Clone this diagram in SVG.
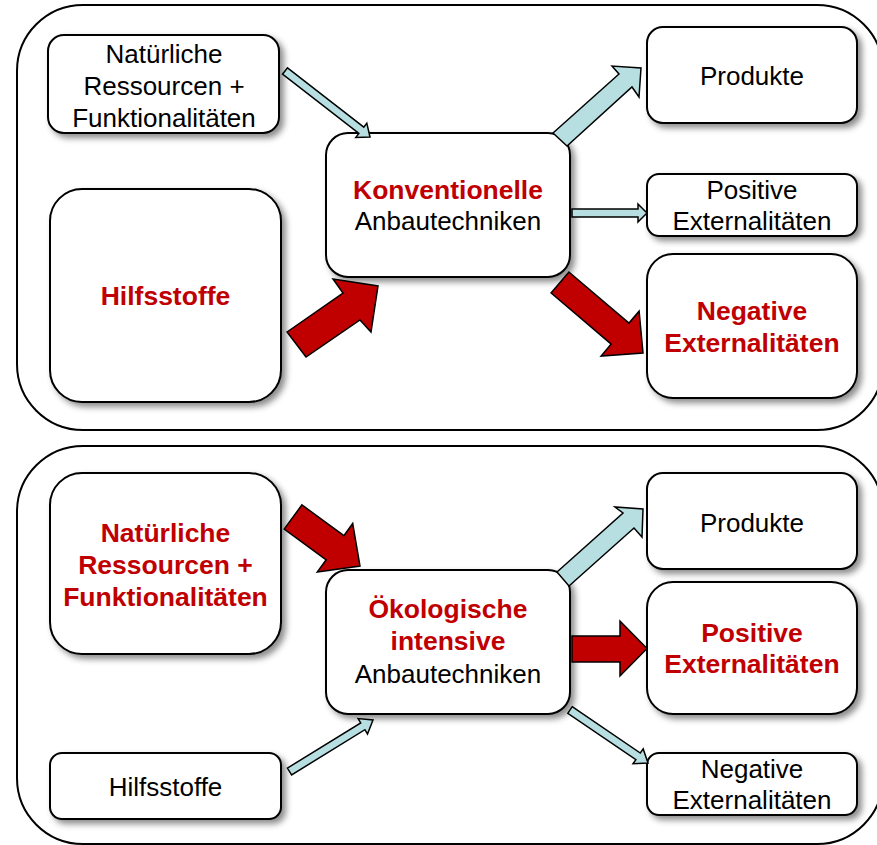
<svg xmlns="http://www.w3.org/2000/svg" width="877" height="845" viewBox="0 0 877 845">
<defs>
<filter id="sh" x="-10%" y="-10%" width="130%" height="130%">
<feDropShadow dx="4" dy="4" stdDeviation="3" flood-color="#000" flood-opacity="0.45"/>
</filter>
<style>
.cont{fill:#fff;stroke:#000;stroke-width:2}
.box{fill:#fff;stroke:#000;stroke-width:2;filter:url(#sh)}
.t{font-family:"Liberation Sans",Arial,sans-serif;font-size:26px;fill:#000;text-anchor:middle}
.r{fill:#c00000;font-weight:bold;font-size:26.5px}
.blue{fill:#b7dfe1;stroke:#000;stroke-width:1.5;stroke-linejoin:miter}
.red{fill:#c00000;stroke:#000;stroke-width:1.5;stroke-linejoin:miter}
</style>
</defs>
<rect width="877" height="845" fill="#fff"/>
<g id="container-top"><rect class="cont" x="17" y="5" width="866" height="425" rx="66"/></g>
<g id="container-bottom"><rect class="cont" x="17" y="446" width="866" height="398" rx="66"/></g>

<g id="n-natur-top"><rect class="box" x="48" y="35" width="231" height="98" rx="16"/>
<text class="t" x="164" y="63">Natürliche</text><text class="t" x="164" y="95">Ressourcen +</text><text class="t" x="164" y="127">Funktionalitäten</text></g>
<g id="n-hilfs-top"><rect class="box" x="50" y="189" width="231" height="213" rx="32"/>
<text class="t r" x="165.5" y="305">Hilfsstoffe</text></g>
<g id="n-konv"><rect class="box" x="326" y="133" width="244" height="144" rx="22"/>
<text class="t r" x="448" y="199">Konventionelle</text><text class="t" x="448" y="230">Anbautechniken</text></g>
<g id="n-prod-top"><rect class="box" x="647" y="27" width="210" height="96" rx="16"/>
<text class="t" x="752" y="85">Produkte</text></g>
<g id="n-pos-top"><rect class="box" x="647" y="174" width="210" height="62" rx="12"/>
<text class="t" x="752" y="199">Positive</text><text class="t" x="752" y="230">Externalitäten</text></g>
<g id="n-neg-top"><rect class="box" x="647" y="254" width="210" height="144" rx="26"/>
<text class="t r" x="752" y="320">Negative</text><text class="t r" x="752" y="352">Externalitäten</text></g>

<g id="n-natur-bot"><rect class="box" x="50" y="473" width="231" height="181" rx="32"/>
<text class="t r" x="165.5" y="542">Natürliche</text><text class="t r" x="165.5" y="574">Ressourcen +</text><text class="t r" x="165.5" y="606">Funktionalitäten</text></g>
<g id="n-hilfs-bot"><rect class="box" x="50" y="753" width="231" height="66" rx="12"/>
<text class="t" x="165.5" y="796">Hilfsstoffe</text></g>
<g id="n-oeko"><rect class="box" x="326" y="570" width="244" height="144" rx="22"/>
<text class="t r" x="448" y="618">Ökologische</text><text class="t r" x="448" y="650">intensive</text><text class="t" x="448" y="683">Anbautechniken</text></g>
<g id="n-prod-bot"><rect class="box" x="647" y="473" width="210" height="96" rx="16"/>
<text class="t" x="752" y="532">Produkte</text></g>
<g id="n-pos-bot"><rect class="box" x="647" y="582" width="210" height="132" rx="26"/>
<text class="t r" x="752" y="642">Positive</text><text class="t r" x="752" y="673">Externalitäten</text></g>
<g id="n-neg-bot"><rect class="box" x="647" y="753" width="210" height="62" rx="12"/>
<text class="t" x="752" y="778">Negative</text><text class="t" x="752" y="809">Externalitäten</text></g>

<g id="connectors">
<polygon class="blue" points="287.5,67.8 363.8,127.1 366.8,123.2 370,137 355.8,137.4 358.9,133.4 282.5,74.2"/>
<polygon class="red" points="287,332 343,293 333,279 378,286 371,332 360,320 306,357"/>
<polygon class="blue" points="553,133 619,74 612,66 641,68 639,97 632,87 567,146"/>
<polygon class="blue" points="572,209 638,209 638,204 647,213 638,222 638,217 572,217"/>
<polygon class="red" points="568.9,272 629,323.1 639.1,311.2 643,353 601.1,356 611.2,344.1 551.1,293"/>
<polygon class="red" points="301.9,504.9 343.9,535.6 352.7,523.5 360,566 317.3,571.9 326.2,559.8 284.2,529.1"/>
<polygon class="blue" points="287.4,768.1 360.7,722.9 358.1,718.6 373,720 367.5,734 364.9,729.7 291.6,774.9"/>
<polygon class="blue" points="557,572 623,513 615,507 643,509 642,537 634,528 569,586"/>
<polygon class="red" points="572,636 620,636 620,621 647,648.5 620,676 620,662 572,662"/>
<polygon class="blue" points="572.2,706.7 640.3,753 643.2,748.9 648,763 633,763.7 635.9,759.6 567.8,713.3"/>
</g>
</svg>
